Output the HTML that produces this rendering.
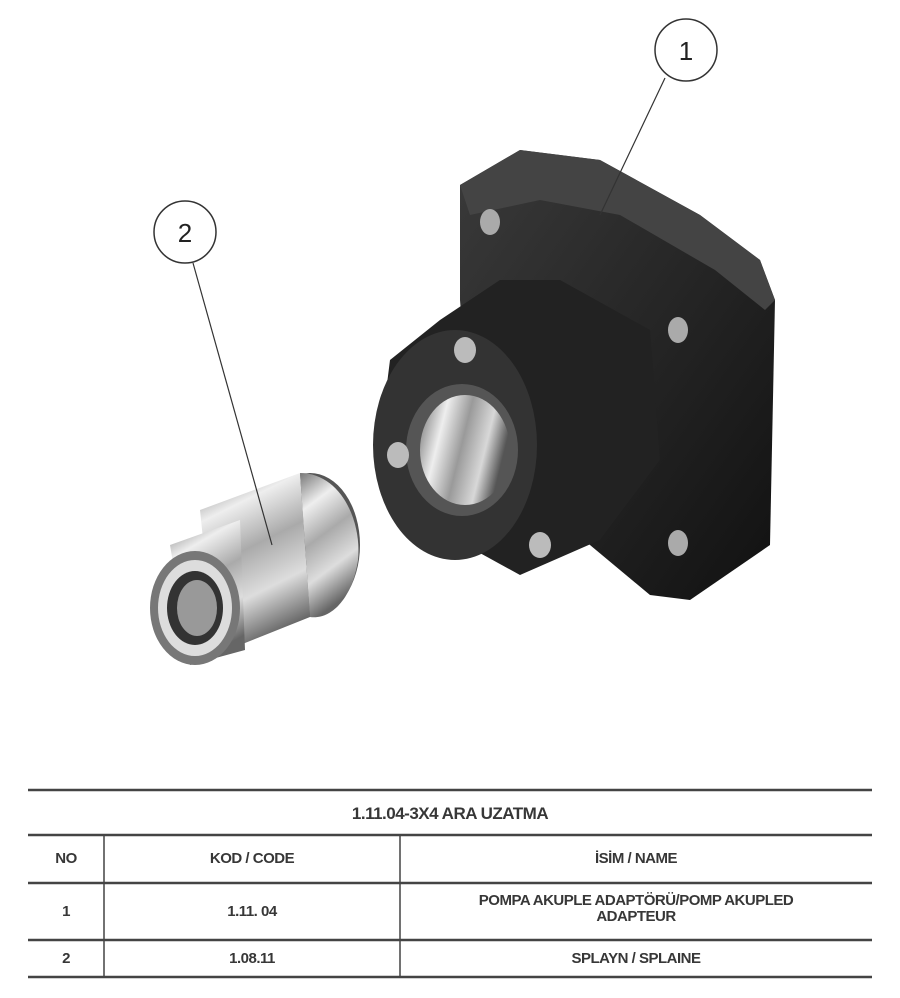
<!DOCTYPE html>
<html><head><meta charset="utf-8"><style>
body{margin:0;background:#fff;width:900px;height:998px;position:relative;overflow:hidden;font-family:"Liberation Sans",sans-serif}
svg{position:absolute;left:0;top:0}
.t{position:absolute;font-size:15px;color:#222;text-align:center;font-weight:bold;letter-spacing:-0.5px;opacity:0.9}
</style></head><body>
<svg width="900" height="998">
<defs>
<linearGradient id="sil" x1="0" y1="0" x2="0.3" y2="1">
<stop offset="0" stop-color="#777"/><stop offset="0.25" stop-color="#eee"/><stop offset="0.5" stop-color="#aaa"/><stop offset="0.75" stop-color="#ddd"/><stop offset="1" stop-color="#666"/></linearGradient>
<linearGradient id="sil2" x1="0" y1="0" x2="1" y2="0.3">
<stop offset="0" stop-color="#6a6a6a"/><stop offset="0.3" stop-color="#eee"/><stop offset="0.55" stop-color="#9a9a9a"/><stop offset="0.8" stop-color="#d8d8d8"/><stop offset="1" stop-color="#555"/></linearGradient>
<linearGradient id="blk" x1="0" y1="0" x2="1" y2="1"><stop offset="0" stop-color="#3a3a3a"/><stop offset="1" stop-color="#111"/></linearGradient>
</defs>
<path d="M460,185 L520,150 L600,160 L700,215 L760,260 L775,300 L770,545 L690,600 L650,595 L560,520 L470,430 L460,300 Z" fill="url(#blk)"/>
<path d="M460,185 L520,150 L600,160 L700,215 L760,260 L775,300 L765,310 L715,270 L620,215 L540,200 L470,215 Z" fill="#444"/>
<ellipse cx="490" cy="222" rx="10" ry="13" fill="#aaa"/>
<ellipse cx="678" cy="330" rx="10" ry="13" fill="#aaa"/>
<ellipse cx="678" cy="543" rx="10" ry="13" fill="#aaa"/>
<path d="M500,280 L560,280 L650,330 L660,460 L600,540 L520,575 L420,520 L380,440 L390,360 L440,320 Z" fill="#222"/>
<ellipse cx="455" cy="445" rx="82" ry="115" fill="#333"/>
<ellipse cx="462" cy="450" rx="56" ry="66" fill="#555"/>
<ellipse cx="465" cy="450" rx="45" ry="55" fill="url(#sil2)"/>
<ellipse cx="465" cy="350" rx="11" ry="13" fill="#bbb"/>
<ellipse cx="398" cy="455" rx="11" ry="13" fill="#bbb"/>
<ellipse cx="540" cy="545" rx="11" ry="13" fill="#bbb"/>
<!-- spline -->
<ellipse cx="310" cy="545" rx="50" ry="72" fill="#555"/>
<path d="M200,510 L300,473 L310,617 L215,655 Z" fill="url(#sil)"/>
<path d="M300,473 C340,473 362,520 358,560 C352,600 330,620 310,617 Z" fill="url(#sil)"/>
<path d="M170,545 L240,520 L245,650 L190,665 Z" fill="url(#sil)"/>
<ellipse cx="195" cy="608" rx="45" ry="57" fill="#777"/>
<ellipse cx="195" cy="608" rx="37" ry="48" fill="#ddd"/>
<ellipse cx="195" cy="608" rx="28" ry="37" fill="#333"/>
<ellipse cx="197" cy="608" rx="20" ry="28" fill="#999"/>
<line x1="665" y1="78" x2="600" y2="215" stroke="#333" stroke-width="1.2"/>
<circle cx="686" cy="50" r="31" fill="#fff" stroke="#333" stroke-width="1.5"/>
<text x="686" y="60" font-size="26" text-anchor="middle" font-family="Liberation Sans" fill="#222">1</text>
<line x1="193" y1="263" x2="272" y2="545" stroke="#333" stroke-width="1.2"/>
<circle cx="185" cy="232" r="31" fill="#fff" stroke="#333" stroke-width="1.5"/>
<text x="185" y="242" font-size="26" text-anchor="middle" font-family="Liberation Sans" fill="#222">2</text>
<g stroke="#444" stroke-width="2.5">
<line x1="28" y1="790" x2="872" y2="790"/>
<line x1="28" y1="835" x2="872" y2="835"/>
<line x1="28" y1="883" x2="872" y2="883"/>
<line x1="28" y1="940" x2="872" y2="940"/>
<line x1="28" y1="977" x2="872" y2="977"/>
</g>
<g stroke="#444" stroke-width="1.5">
<line x1="104" y1="835" x2="104" y2="977"/>
<line x1="400" y1="835" x2="400" y2="977"/>
</g>
</svg>
<div class="t" style="left:28px;width:844px;top:804px;font-size:17px">1.11.04-3X4 ARA UZATMA</div>
<div class="t" style="left:28px;width:76px;top:850px">NO</div>
<div class="t" style="left:104px;width:296px;top:850px">KOD / CODE</div>
<div class="t" style="left:400px;width:472px;top:850px">İSİM / NAME</div>
<div class="t" style="left:28px;width:76px;top:903px">1</div>
<div class="t" style="left:104px;width:296px;top:903px">1.11. 04</div>
<div class="t" style="left:400px;width:472px;top:893px;line-height:16px">POMPA AKUPLE ADAPTÖRÜ/POMP AKUPLED<br>ADAPTEUR</div>
<div class="t" style="left:28px;width:76px;top:950px">2</div>
<div class="t" style="left:104px;width:296px;top:950px">1.08.11</div>
<div class="t" style="left:400px;width:472px;top:950px">SPLAYN / SPLAINE</div>
</body></html>
